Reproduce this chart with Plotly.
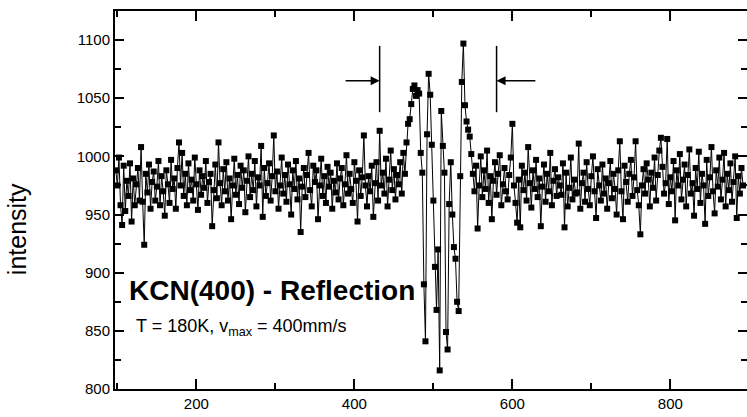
import plotly.graph_objects as go

x_start, x_step = 98, 2
intensity = [
    988, 975, 999, 958, 941, 992, 953, 979, 966, 994, 944, 981, 958, 976, 990, 962, 1008, 961, 924, 985,
    969, 993, 955, 978, 987, 962, 974, 996, 958, 983, 970, 949, 988, 976, 960, 997, 972, 981, 955, 990,
    1012, 975, 1003, 966, 985, 958, 994, 971, 980, 962, 999, 976, 954, 988, 967, 983, 973, 996, 960, 978,
    985, 940, 971, 993, 964, 1012, 977, 958, 989, 970, 995, 962, 981, 946, 975, 998, 967, 984, 959, 992,
    973, 988, 952, 979, 1000, 965, 985, 971, 996, 957, 982, 975, 1009, 948, 990, 966, 977, 994, 962, 983,
    1018, 970, 987, 955, 975, 999, 968, 984, 961, 993, 976, 950, 988, 972, 996, 963, 981, 935, 974, 990,
    965, 984, 1003, 971, 957, 992, 978, 988, 946, 975, 998, 966, 983, 960, 991, 974, 986, 955, 979, 969,
    994, 963, 981, 990, 958, 976, 1001, 968, 985, 972, 960, 995, 979, 944, 988, 966, 982, 1018, 975, 957,
    983, 970, 992, 948, 977, 995, 962, 1022, 975, 986, 968, 998, 957, 980, 1005, 971, 989, 963, 984, 976,
    995, 968, 1003, 985, 1012, 1028, 1032, 1045, 1058, 1061, 1052, 1057, 1054, 1003, 986, 890, 841, 1019, 1071, 1053,
    1010, 962, 905, 868, 920, 816, 1039, 1009, 986, 849, 834, 959, 995, 950, 922, 912, 875, 867, 983, 1064,
    1097, 1044, 1030, 1023, 1017, 1002, 985, 970, 992, 938, 975, 1000, 965, 988, 972, 1005, 960, 983, 946, 979,
    995, 967, 985, 1001, 958, 976, 990, 970, 963, 984, 999, 1028, 975, 960, 943, 980, 939, 992, 971, 986,
    962, 1008, 977, 956, 988, 972, 997, 965, 981, 940, 974, 993, 961, 985, 970, 1003, 958, 979, 989, 966,
    982, 975, 967, 994, 939, 986, 957, 973, 999, 963, 980, 968, 969, 1011, 955, 977, 986, 961, 995, 972,
    958, 983, 1000, 970, 947, 989, 975, 962, 993, 968, 981, 955, 977, 996, 964, 985, 972, 950, 988, 1013,
    970, 946, 992, 978, 961, 985, 997, 966, 982, 1013, 971, 958, 933, 975, 989, 968, 994, 980, 957, 986,
    973, 999, 962, 984, 1005, 1016, 991, 968, 977, 1015, 959, 982, 970, 996, 945, 988, 975, 1002, 963, 980,
    993, 957, 984, 1006, 968, 977, 949, 990, 972, 1004, 960, 985, 975, 942, 997, 966, 982, 1008, 970, 951,
    988, 974, 999, 963, 980, 1003, 957, 985, 971, 994, 961, 978, 1000, 947, 983, 968, 990, 975,
]
channel = [x_start + x_step * i for i in range(len(intensity))]

x_range = [97, 897]
y_range = [800, 1125]
x_ticks = [200, 400, 600, 800]
y_ticks = [800, 850, 900, 950, 1000, 1050, 1100]

# markers for the line width window (vertical bars and arrows)
left_mark, right_mark = 432, 580
mark_low, mark_high = 1038, 1095
arrow_y = 1065
left_tail, right_tail = 387, 631

title_text = "KCN(400) - Reflection"
sub_text = "T = 180K, v<sub>max</sub> = 400mm/s"

FONT = "Liberation Sans, Arial, sans-serif"

fig = go.Figure()
fig.add_trace(go.Scatter(
    x=channel, y=intensity, mode="lines+markers",
    line=dict(color="black", width=1),
    marker=dict(symbol="square", size=6, color="black"),
    showlegend=False,
))

for xm in (left_mark, right_mark):
    fig.add_shape(type="line", x0=xm, x1=xm, y0=mark_low, y1=mark_high,
                  line=dict(color="black", width=1.5))

fig.add_annotation(x=left_mark, y=arrow_y, ax=left_tail, ay=arrow_y,
                   xref="x", yref="y", axref="x", ayref="y", text="",
                   showarrow=True, arrowhead=2, arrowsize=1.2, arrowwidth=1.5,
                   arrowcolor="black")
fig.add_annotation(x=right_mark, y=arrow_y, ax=right_tail, ay=arrow_y,
                   xref="x", yref="y", axref="x", ayref="y", text="",
                   showarrow=True, arrowhead=2, arrowsize=1.2, arrowwidth=1.5,
                   arrowcolor="black")

fig.add_annotation(x=112, y=885, xref="x", yref="y", text="<b>" + title_text + "</b>",
                   showarrow=False, xanchor="left", yanchor="middle",
                   font=dict(family=FONT, size=28, color="black"))
fig.add_annotation(x=121, y=853, xref="x", yref="y", text=sub_text,
                   showarrow=False, xanchor="left", yanchor="middle",
                   font=dict(family=FONT, size=18, color="black"))

fig.add_annotation(x=-0.155, y=0.423, xref="paper", yref="paper", text="intensity",
                   textangle=-90, showarrow=False, xanchor="center", yanchor="middle",
                   font=dict(family=FONT, size=25, color="black"))

axis_common = dict(
    showgrid=False, zeroline=False, showline=True, linecolor="black", linewidth=2,
    mirror="ticks", ticks="inside", tickcolor="black", tickwidth=1.5,
    tickfont=dict(family=FONT, size=15, color="black"),
)
fig.update_xaxes(range=x_range, tickvals=x_ticks, ticklen=10,
                 minor=dict(dtick=100, tick0=0, ticks="inside", ticklen=6,
                            tickcolor="black", tickwidth=1.5),
                 **axis_common)
fig.update_yaxes(range=y_range, tickvals=y_ticks, ticklen=9,
                 minor=dict(dtick=25, tick0=0, ticks="inside", ticklen=6,
                            tickcolor="black", tickwidth=1.5),
                 **axis_common)

fig.update_layout(
    width=749, height=417,
    margin=dict(l=115, r=0, t=11, b=28),
    paper_bgcolor="white", plot_bgcolor="white",
    font=dict(family=FONT, color="black"),
)

fig.write_html("out.html", config={"displayModeBar": False},
               post_script="document.body.style.margin='0';document.body.style.overflow='hidden';")
